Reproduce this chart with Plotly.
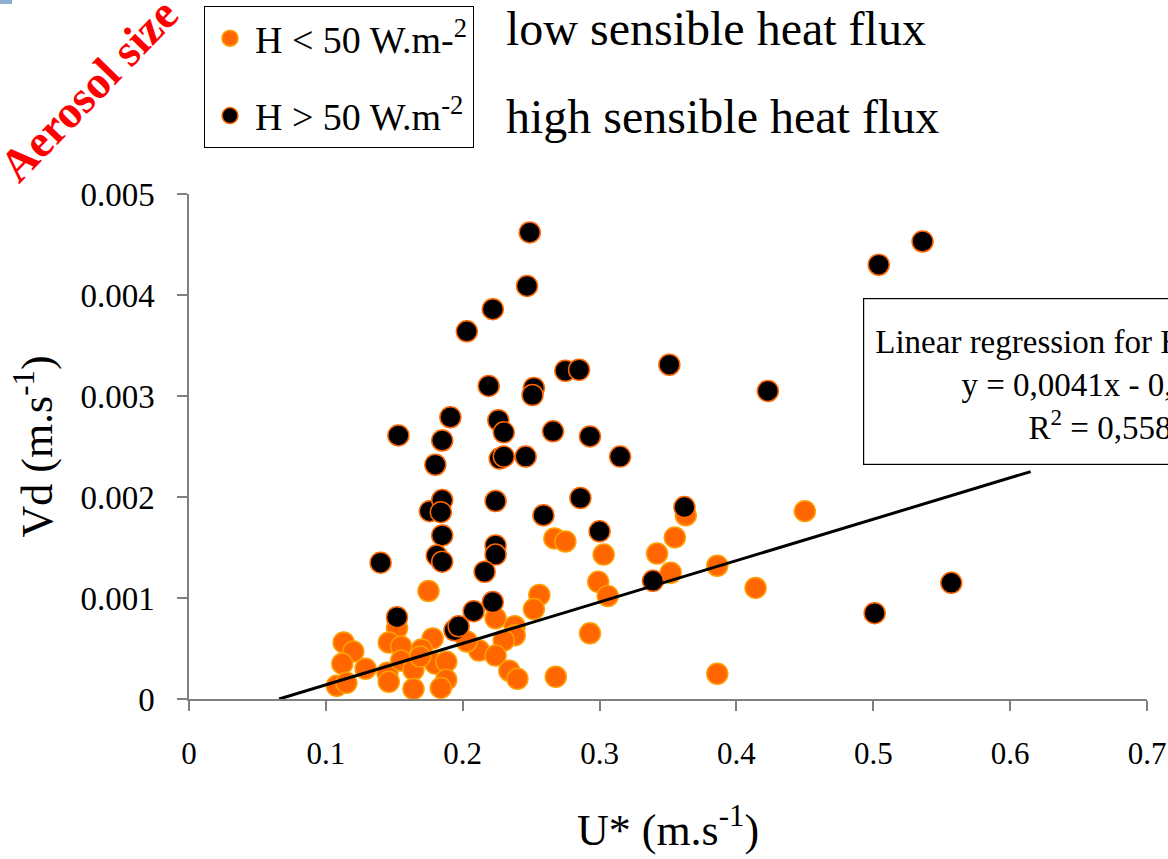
import plotly.graph_objects as go

# Friction velocity U* (m/s) and deposition velocity Vd (m/s)
# Cases with low sensible heat flux (H < 50 W/m2)
u_low = [0.267, 0.275, 0.303, 0.175, 0.256, 0.252, 0.299, 0.306, 0.293, 0.224,
         0.238, 0.238, 0.230, 0.212, 0.224, 0.234, 0.240, 0.268, 0.203, 0.152,
         0.146, 0.178, 0.155, 0.113, 0.120, 0.112, 0.129, 0.108, 0.115, 0.145,
         0.146, 0.155, 0.164, 0.164, 0.170, 0.180, 0.188, 0.188, 0.184, 0.355,
         0.342, 0.352, 0.363, 0.450, 0.386, 0.414, 0.386, 0.169]
vd_low = [0.00159, 0.00156, 0.00143, 0.00107, 0.00103, 0.00089, 0.00116, 0.00102, 0.00065, 0.00080,
          0.00072, 0.00063, 0.00058, 0.00048, 0.00043, 0.00028, 0.00020, 0.00022, 0.00057, 0.00070,
          0.00056, 0.00060, 0.00052, 0.00056, 0.00047, 0.00035, 0.00030, 0.00013, 0.00016, 0.00026,
          0.00017, 0.00038, 0.00029, 0.00010, 0.00049, 0.00035, 0.00037, 0.00019, 0.00011, 0.00160,
          0.00144, 0.00125, 0.00182, 0.00186, 0.00132, 0.00110, 0.00025, 0.00042]

# Cases with high sensible heat flux (H > 50 W/m2)
u_high = [0.249, 0.247, 0.222, 0.203, 0.219, 0.252, 0.251, 0.275, 0.285, 0.351,
          0.423, 0.504, 0.536, 0.191, 0.153, 0.185, 0.226, 0.230, 0.266, 0.293,
          0.315, 0.180, 0.227, 0.230, 0.246, 0.176, 0.185, 0.184, 0.224, 0.286,
          0.259, 0.185, 0.181, 0.185, 0.224, 0.224, 0.216, 0.300, 0.362, 0.339,
          0.140, 0.222, 0.208, 0.194, 0.197, 0.152, 0.501, 0.557]
vd_high = [0.00462, 0.00409, 0.00386, 0.00364, 0.00310, 0.00308, 0.00301, 0.00325, 0.00326, 0.00331,
           0.00305, 0.00430, 0.00453, 0.00279, 0.00261, 0.00256, 0.00276, 0.00264, 0.00265, 0.00260,
           0.00240, 0.00232, 0.00238, 0.00240, 0.00240, 0.00186, 0.00197, 0.00185, 0.00196, 0.00199,
           0.00182, 0.00162, 0.00142, 0.00136, 0.00152, 0.00143, 0.00126, 0.00166, 0.00190, 0.00117,
           0.00135, 0.00096, 0.00087, 0.00068, 0.00072, 0.00081, 0.00085, 0.00115]

# Linear regression fitted to the low-flux cases
slope = 0.0041
intercept = -0.00027
fit_u_end = 0.615

# Axis ticks
x_ticks = [0, 0.1, 0.2, 0.3, 0.4, 0.5, 0.6, 0.7]
x_tick_text = ["0", "0.1", "0.2", "0.3", "0.4", "0.5", "0.6", "0.7"]
y_ticks = [0, 0.001, 0.002, 0.003, 0.004, 0.005]
y_tick_text = ["0", "0.001", "0.002", "0.003", "0.004", "0.005"]

SERIF = "Liberation Serif, Times New Roman, serif"
W, H = 1168, 859
L, R, T, B = 189, 21, 194, 160
plot_w = W - L - R
plot_h = H - T - B


def px_to_paper(px, py):
    """Convert figure pixel position to paper coordinates."""
    return (px - L) / plot_w, (H - B - py) / plot_h


fit_u = [-intercept / slope, fit_u_end]
fit_vd = [slope * u + intercept for u in fit_u]

fig = go.Figure()

fig.add_trace(go.Scatter(
    x=u_low, y=vd_low, mode="markers", name="H < 50 W.m-<sup>2</sup>",
    legendgroup="low",
    marker=dict(size=21, color="#FF6600", line=dict(color="#FFA000", width=1.5)),
    cliponaxis=False,
))
fig.add_trace(go.Scatter(
    x=u_high, y=vd_high, mode="markers", name="H > 50 W.m<sup>-2</sup>",
    legendgroup="high",
    marker=dict(size=21, color="#000000", line=dict(color="#FF6600", width=1.5)),
    cliponaxis=False,
))
fig.add_trace(go.Scatter(
    x=fit_u, y=fit_vd, mode="lines", showlegend=False,
    line=dict(color="#000000", width=3),
))

annotations = []

# descriptions next to the legend entries
for txt, py in [("low sensible heat flux", 29), ("high sensible heat flux", 116)]:
    ax, ay = px_to_paper(504, py)
    annotations.append(dict(
        x=ax, y=ay, xref="paper", yref="paper", xanchor="left", yanchor="middle",
        text=txt, showarrow=False, font=dict(family=SERIF, size=48, color="#000000"),
    ))

# diagonal red label
ax, ay = px_to_paper(88, 90)
annotations.append(dict(
    x=ax, y=ay, xref="paper", yref="paper", xanchor="center", yanchor="middle",
    text="<b>Aerosol size</b>", textangle=-46, showarrow=False,
    font=dict(family=SERIF, size=46, color="#FF0000"),
))

# regression summary box
ax, ay = px_to_paper(863, 298)
annotations.append(dict(
    x=ax, y=ay, xref="paper", yref="paper", xanchor="left", yanchor="top",
    text=("Linear regression for H < 50 W.m<sup>-2</sup><br>"
          "y = 0,0041x - 0,00027<br>"
          "R<sup>2</sup> = 0,5582"),
    align="center", valign="middle", showarrow=False,
    width=470, height=147, borderpad=9,
    bordercolor="#000000", borderwidth=1.2, bgcolor="#FFFFFF",
    font=dict(family=SERIF, size=33, color="#000000"),
))

# small corner tab
x0, y0 = px_to_paper(0, 0)
x1, y1 = px_to_paper(12, 4)

fig.update_layout(
    width=W, height=H,
    margin=dict(l=L, r=R, t=T, b=B, pad=0, autoexpand=False),
    paper_bgcolor="#FFFFFF", plot_bgcolor="#FFFFFF",
    font=dict(family=SERIF, color="#000000"),
    showlegend=True,
    legend=dict(
        x=(204 - L) / plot_w, y=(H - B - 6) / plot_h, xanchor="left", yanchor="top",
        bgcolor="#FFFFFF", bordercolor="#000000", borderwidth=1,
        font=dict(family=SERIF, size=38, color="#000000"),
        tracegroupgap=25, traceorder="grouped", itemwidth=40,
    ),
    xaxis=dict(
        range=[0, 0.7], tickvals=x_ticks, ticktext=x_tick_text,
        showline=True, linecolor="#808080", linewidth=1.5,
        ticks="outside", ticklen=10, tickcolor="#808080", tickwidth=1.5,
        showgrid=False, zeroline=False, ticklabelstandoff=16,
        tickfont=dict(family=SERIF, size=31, color="#000000"),
        title=dict(text="U* (m.s<sup>-1</sup>)", standoff=44,
                   font=dict(family=SERIF, size=44, color="#000000")),
    ),
    yaxis=dict(
        range=[0, 0.005], tickvals=y_ticks, ticktext=y_tick_text,
        showline=True, linecolor="#808080", linewidth=1.5,
        ticks="outside", ticklen=10, tickcolor="#808080", tickwidth=1.5,
        showgrid=False, zeroline=False, ticklabelstandoff=16,
        tickfont=dict(family=SERIF, size=33, color="#000000"),
        title=dict(text="Vd (m.s<sup>-1</sup>)", standoff=14,
                   font=dict(family=SERIF, size=44, color="#000000")),
    ),
    annotations=annotations,
    shapes=[dict(type="rect", xref="paper", yref="paper", x0=x0, x1=x1, y0=y0, y1=y1,
                 fillcolor="#8FB0D0", line=dict(width=0))],
)

fig.write_html("out.html")
